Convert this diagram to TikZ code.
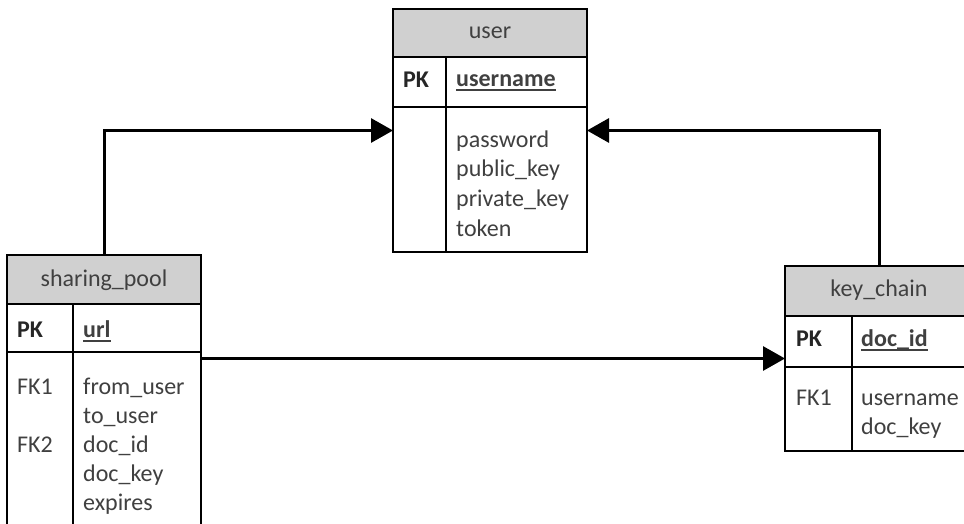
\documentclass[tikz,border=0pt]{standalone}
\usepackage{fontspec}
\setmainfont{Carlito}
\usetikzlibrary{arrows.meta}
\definecolor{hdrgray}{RGB}{208,208,208}
\definecolor{txt}{RGB}{64,64,64}
\newcommand{\keyul}[1]{\setbox0\hbox{\bfseries #1}\rlap{\rule[-4.5pt]{\wd0}{2pt}}\box0}
\begin{document}
\begin{tikzpicture}[x=1pt,y=-1pt,
 tbl/.style={draw=black, line width=1.8pt, inner sep=0pt, outer sep=0pt, anchor=north west, fill=white},
 hdr/.style={tbl, fill=hdrgray},
 sep/.style={draw=black, line width=1.8pt},
 ttl/.style={anchor=base, inner sep=0pt, text=txt, font=\fontsize{24}{29.3}\selectfont},
 fld/.style={anchor=base west, inner sep=0pt, text=txt, font=\fontsize{24}{29.3}\selectfont},
 pk/.style={anchor=base west, inner sep=0pt, text=black!85, font=\fontsize{24}{29.3}\selectfont\bfseries},
 conn/.style={line width=3pt, line join=miter, -{Triangle[length=22pt,width=24pt]}},
]
\useasboundingbox (0,0) rectangle (964,524);
\clip (0,0) rectangle (964,524);
\fill[white] (0,0) rectangle (964,524);

% user table
\node[tbl, minimum width=194pt, minimum height=243pt] (user) at (393,9) {};
\node[hdr, minimum width=194pt, minimum height=48pt] (userh) at (393,9) {};
\draw[sep] (393,107) -- (587,107);
\draw[sep] (446,57) -- (446,252);
\node[ttl] (usert) at (490,39) {user};
\node[pk] (userpk) at (403,88) {PK};
\node[fld] (userk) at (456,87) {\keyul{username}};
\node[fld] (u1) at (456,147.5) {password};
\node[fld] (u2) at (456,177) {public\_key};
\node[fld] (u3) at (456,206.5) {private\_key};
\node[fld] (u4) at (456,236) {token};

% sharing_pool table
\node[tbl, minimum width=194pt, minimum height=290pt] (sp) at (7,255) {};
\node[hdr, minimum width=194pt, minimum height=49pt] (sph) at (7,255) {};
\draw[sep] (7,352) -- (201,352);
\draw[sep] (73,304) -- (73,545);
\node[ttl] (spt) at (104,286) {sharing\_pool};
\node[pk] (sppk) at (17,337) {PK};
\node[fld] (spk) at (83,337) {\keyul{url}};
\node[fld] (spfk1) at (17,394) {FK1};
\node[fld] (s1) at (83,394) {from\_user};
\node[fld] (s2) at (83,423) {to\_user};
\node[fld] (spfk2) at (17,452) {FK2};
\node[fld] (s3) at (83,452) {doc\_id};
\node[fld] (s4) at (83,481) {doc\_key};
\node[fld] (s5) at (83,510) {expires};

% key_chain table
\node[tbl, minimum width=188pt, minimum height=185pt] (kc) at (785,266) {};
\node[hdr, minimum width=188pt, minimum height=50pt] (kch) at (785,266) {};
\draw[sep] (785,367) -- (973,367);
\draw[sep] (852,316) -- (852,451);
\node[ttl] (kct) at (879,296.5) {key\_chain};
\node[pk] (kcpk) at (796,346) {PK};
\node[fld] (kck) at (861,346) {\keyul{doc\_id}};
\node[fld] (kcfk1) at (796,405) {FK1};
\node[fld] (k1) at (861,405) {username};
\node[fld] (k2) at (861,434) {doc\_key};

% connectors
\draw[conn] (sp.north) |- (user.west);
\draw[conn] (kc.north) |- (user.east);
\draw[conn] (sp.east |- kc.west) -- (kc.west);
\end{tikzpicture}
\end{document}
